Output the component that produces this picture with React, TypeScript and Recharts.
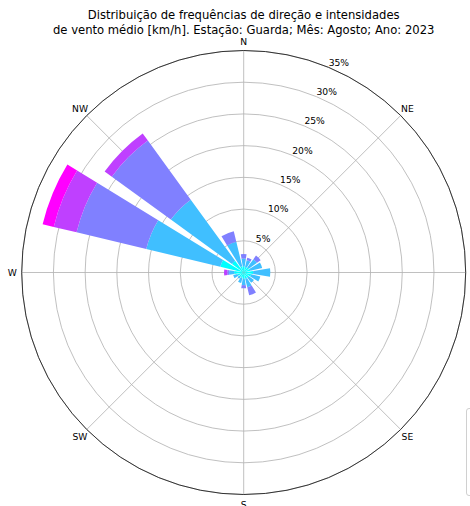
import { RadialBarChart, RadialBar, PolarGrid, PolarAngleAxis, PolarRadiusAxis, Legend } from 'recharts';

// 16 sectors, clockwise from north
const directions = ['N', 'NNE', 'NE', 'ENE', 'E', 'ESE', 'SE', 'SSE', 'S', 'SSW', 'SW', 'WSW', 'W', 'WNW', 'NW', 'NNW'];

// frequency (%) per speed class, not cumulative
const speedClass1 = [1.0, 0.9, 1.0, 1.1, 1.5, 1.2, 1.0, 1.0, 1.0, 0.9, 0.8, 1.0, 1.5, 3.8, 2.3, 1.0];
const speedClass2 = [1.2, 1.1, 1.6, 1.9, 2.7, 1.5, 1.0, 1.4, 1.0, 0.8, 0.4, 0.7, 0.8, 12.0, 11.9, 4.0];
const speedClass3 = [0.7, 0.4, 0.7, 0, 0, 0, 0, 1.3, 0.5, 0, 0, 0, 0.3, 11.3, 11.5, 1.7];
const speedClass4 = [0, 0, 0, 0, 0, 0, 0, 0, 0, 0, 0, 0, 0.5, 3.7, 1.4, 0];
const speedClass5 = [0, 0, 0, 0, 0, 0, 0, 0, 0, 0, 0, 0, 0, 1.8, 0, 0];

const speedLabels = ['[0.0 : 5.0)', '[5.0 : 10.0)', '[10.0 : 15.0)', '[15.0 : 20.0)', '[20.0 : inf)'];
const speedColors = ['#00ffff', '#40bfff', '#8080ff', '#bf40ff', '#ff00ff'];
const speedKeys = ['s1', 's2', 's3', 's4', 's5'];

const compassLabels = ['N', 'NE', 'E', 'SE', 'S', 'SW', 'W', 'NW'];
const compassBearings = [0, 45, 90, 135, 180, 225, 270, 315];
const radialTicks = [5, 10, 15, 20, 25, 30, 35];

const data = directions.map((dir, i) => ({
  dir,
  s1: speedClass1[i],
  s2: speedClass2[i],
  s3: speedClass3[i],
  s4: speedClass4[i],
  s5: speedClass5[i],
}));

const CX = 243.7;
const CY = 272.5;
const R = 222;
const FONT = '"DejaVu Sans", sans-serif';

// place compass labels from the sector bearing, just outside the rim
const CompassTick = (props: any) => {
  const { payload } = props;
  const idx = compassLabels.indexOf(payload.value);
  if (idx < 0) return null;
  const a = ((90 - compassBearings[idx]) * Math.PI) / 180;
  return (
    <text
      x={CX + (R + 9.5) * Math.cos(a)}
      y={CY - (R + 9.5) * Math.sin(a)}
      textAnchor="middle"
      dominantBaseline="central"
      fontSize={9.2}
      fontFamily={FONT}
      fill="#000"
    >
      {payload.value}
    </text>
  );
};

const RadiusTick = (props: any) => {
  const { x, y, payload } = props;
  return (
    <text x={x} y={y - 1.5} textAnchor="start" fontSize={9.2} fontFamily={FONT} fill="#000">
      {payload.value}%
    </text>
  );
};

const LegendBox = () => (
  <div
    style={{
      border: '1px solid #d0d0d0',
      borderRadius: 3,
      background: '#fff',
      padding: '4px 6px',
      width: 90,
      height: 78,
      fontFamily: FONT,
      fontSize: 9.2,
    }}
  >
    {speedLabels.map((l, i) => (
      <div key={l} style={{ display: 'flex', alignItems: 'center', height: 15 }}>
        <span style={{ width: 18, height: 7, background: speedColors[i], marginRight: 5 }} />
        {l}
      </div>
    ))}
  </div>
);

export default function App() {
  return (
    <div style={{ position: 'absolute', left: 0, top: 0, width: 470, height: 506, overflow: 'hidden', background: '#fff' }}>
      <div
        style={{
          position: 'absolute',
          left: 0,
          top: 8,
          width: CX * 2,
          textAlign: 'center',
          fontFamily: FONT,
          fontSize: 11.6,
          lineHeight: '14.5px',
          color: '#000',
        }}
      >
        Distribuição de frequências de direção e intensidades
        <br />
        de vento médio [km/h]. Estação: Guarda; Mês: Agosto; Ano: 2023
      </div>
      <RadialBarChart
        width={470}
        height={506}
        data={data}
        cx={CX}
        cy={CY}
        innerRadius={0}
        outerRadius={R}
        startAngle={78.75}
        endAngle={-281.25}
        layout="centric"
        barCategoryGap="10%"
        margin={{ top: 0, right: 0, bottom: 0, left: 0 }}
        style={{ position: 'absolute', left: 0, top: 0 }}
      >
        <PolarAngleAxis dataKey="dir" type="category" axisLine={false} tickLine={false} tick={<CompassTick />} />
        <PolarRadiusAxis
          type="number"
          domain={[0, 35]}
          ticks={radialTicks}
          angle={67.5}
          axisLine={false}
          tickLine={false}
          tick={<RadiusTick />}
        />
        {speedKeys.map((k, i) => (
          <RadialBar
            key={k}
            dataKey={k}
            stackId="speed"
            fill={speedColors[i]}
            name={speedLabels[i]}
            isAnimationActive={false}
          />
        ))}
        <PolarGrid
          gridType="circle"
          polarAngles={compassBearings.map((b) => 90 - b)}
          stroke="#b0b0b0"
          strokeWidth={0.8}
        />
        <PolarGrid gridType="circle" radialLines={false} polarRadius={[R]} stroke="#222" strokeWidth={0.9} />
        <Legend content={<LegendBox />} wrapperStyle={{ position: 'absolute', left: 466, top: 408, width: 'auto' }} />
      </RadialBarChart>
    </div>
  );
}
